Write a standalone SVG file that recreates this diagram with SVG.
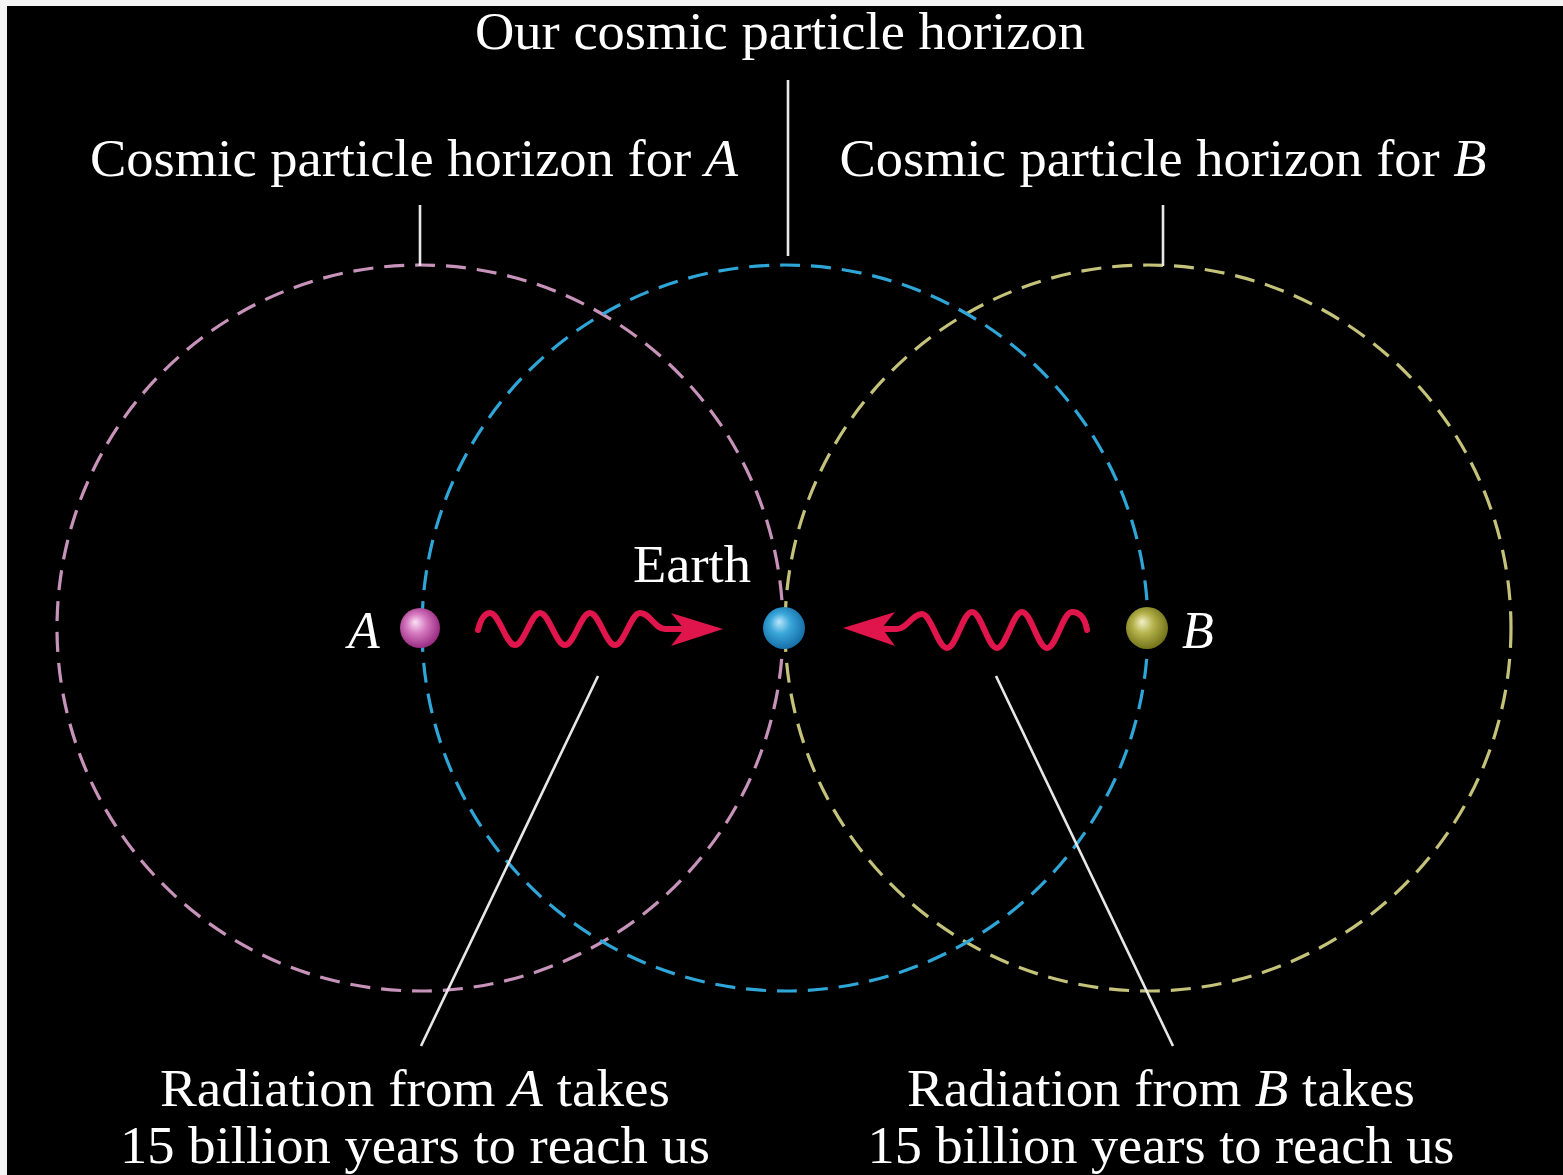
<svg xmlns="http://www.w3.org/2000/svg" width="1563" height="1175" viewBox="0 0 1563 1175">
<style>
.lbl{font-family:"Liberation Serif","Times New Roman",serif;fill:#ffffff;font-size:52px}
.it{font-style:italic}
.hz{fill:none;stroke-width:3.2;stroke-dasharray:20 11}
.lead{stroke:#e8e8e8;stroke-width:2.6;fill:none}
.wave{fill:none;stroke:#e0154c;stroke-width:6;stroke-linecap:round;stroke-linejoin:round}
.head{fill:#e0154c}
</style>
<defs>
<radialGradient id="gA" cx="45%" cy="45%" r="55%" fx="38%" fy="35%">
<stop offset="0" stop-color="#fbe0f6"/><stop offset="0.45" stop-color="#d57ac0"/><stop offset="1" stop-color="#9a2c82"/>
</radialGradient>
<radialGradient id="gE" cx="45%" cy="45%" r="55%" fx="38%" fy="35%">
<stop offset="0" stop-color="#b8e6fa"/><stop offset="0.45" stop-color="#3aa6da"/><stop offset="1" stop-color="#1670a8"/>
</radialGradient>
<radialGradient id="gB" cx="45%" cy="45%" r="55%" fx="38%" fy="35%">
<stop offset="0" stop-color="#f2f0c8"/><stop offset="0.45" stop-color="#b4b24a"/><stop offset="1" stop-color="#75741c"/>
</radialGradient>
</defs>
<rect x="0" y="0" width="1563" height="1175" fill="#f4f4f4"/>
<rect x="7" y="6" width="1556" height="1169" fill="#000000"/>

<g id="horizon-A"><circle class="hz" cx="420" cy="628" r="363" stroke="#c893bb"/></g>
<g id="horizon-B"><circle class="hz" cx="1148" cy="628" r="363" stroke="#c5c27a"/></g>
<g id="horizon-ours"><circle class="hz" cx="785" cy="628" r="363" stroke="#2ea6d8"/></g>

<g id="connectors">
<line class="lead" x1="788" y1="80" x2="788" y2="256"/>
<line class="lead" x1="420" y1="205" x2="420" y2="266"/>
<line class="lead" x1="1163" y1="205" x2="1163" y2="266"/>
<line class="lead" x1="598" y1="676" x2="421" y2="1046"/>
<line class="lead" x1="996" y1="676" x2="1173" y2="1046"/>
<path class="wave" d="M478,630 C481,618 485,613 490,613 C499,613 506,645 515,645 C524,645 531,613 540,613 C549,613 556,645 565,645 C574,645 581,613 590,613 C599,613 606,645 615,645 C624,645 631,613 640,613 C650,613 655,629 665,629 L700,629"/>
<path class="head" d="M723,629 L671,613 L684,629 L671,646 Z"/>
<path class="wave" d="M1087,630 C1085,618 1080,612 1072,612 C1063,612 1056,648 1047,648 C1038,648 1031,612 1022,612 C1013,612 1006,648 997,648 C988,648 981,612 972,612 C963,612 956,648 947,648 C938,648 931,614 922,614 C912,614 907,629 897,629 L866,629"/>
<path class="head" d="M843,628 L895,612 L882,628 L895,646 Z"/>
</g>

<g id="node-A"><circle cx="420" cy="628" r="20" fill="url(#gA)"/><text class="lbl it" x="364" y="648" text-anchor="middle">A</text></g>
<g id="node-Earth"><circle cx="784" cy="628" r="21" fill="url(#gE)"/><text class="lbl" x="692" y="582" text-anchor="middle" textLength="118" lengthAdjust="spacingAndGlyphs">Earth</text></g>
<g id="node-B"><circle cx="1147" cy="628" r="21" fill="url(#gB)"/><text class="lbl it" x="1198" y="648" text-anchor="middle">B</text></g>

<g id="label-ours"><text class="lbl" x="780" y="49" text-anchor="middle" textLength="610" lengthAdjust="spacingAndGlyphs">Our cosmic particle horizon</text></g>
<g id="label-horizon-A"><text class="lbl" x="414" y="176" text-anchor="middle" textLength="648" lengthAdjust="spacingAndGlyphs">Cosmic particle horizon for <tspan class="it">A</tspan></text></g>
<g id="label-horizon-B"><text class="lbl" x="1163" y="176" text-anchor="middle" textLength="647" lengthAdjust="spacingAndGlyphs">Cosmic particle horizon for <tspan class="it">B</tspan></text></g>
<g id="label-rad-A">
<text class="lbl" x="415" y="1106" text-anchor="middle" textLength="510" lengthAdjust="spacingAndGlyphs">Radiation from <tspan class="it">A</tspan> takes</text>
<text class="lbl" x="415" y="1163" text-anchor="middle" textLength="590" lengthAdjust="spacingAndGlyphs">15 billion years to reach us</text>
</g>
<g id="label-rad-B">
<text class="lbl" x="1161" y="1106" text-anchor="middle" textLength="508" lengthAdjust="spacingAndGlyphs">Radiation from <tspan class="it">B</tspan> takes</text>
<text class="lbl" x="1161" y="1163" text-anchor="middle" textLength="587" lengthAdjust="spacingAndGlyphs">15 billion years to reach us</text>
</g>
</svg>
